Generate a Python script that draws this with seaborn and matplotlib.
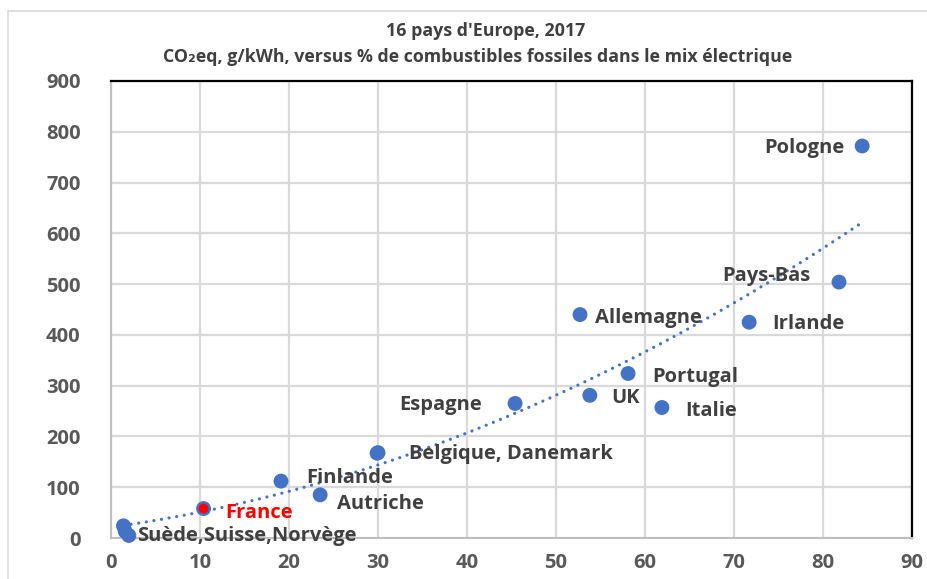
import numpy as np
import pandas as pd
import matplotlib
matplotlib.use("Agg")
import matplotlib.pyplot as plt
from matplotlib.lines import Line2D
import seaborn as sns

# ---- data ----
countries = ["Suède", "Suisse", "Norvège", "France", "Finlande", "Autriche",
             "Belgique", "Danemark", "Espagne", "Allemagne", "UK", "Portugal",
             "Italie", "Irlande", "Pays-Bas", "Pologne"]
fossil_pct = [1.6, 2.0, 1.4, 10.4, 19.1, 23.5, 29.9, 30.0, 45.4, 52.7, 53.8,
              58.1, 61.9, 71.7, 81.8, 84.4]
co2_g_kwh = [13, 5, 24, 58, 112, 85, 167, 168, 265, 440, 281, 324, 257, 425,
             504, 772]
x_ticks = [0, 10, 20, 30, 40, 50, 60, 70, 80, 90]
y_ticks = [0, 100, 200, 300, 400, 500, 600, 700, 800, 900]

# label text, anchor country, offset in pixels, alignment, colour
labels = [
    ("Pologne", "Pologne", (-18, -2), "right", "#404040"),
    ("Pays-Bas", "Pays-Bas", (-29, 6), "right", "#404040"),
    ("Irlande", "Irlande", (23, -2), "left", "#404040"),
    ("Allemagne", "Allemagne", (15, -3), "left", "#404040"),
    ("Portugal", "Portugal", (24, -4), "left", "#404040"),
    ("UK", "UK", (21, -3), "left", "#404040"),
    ("Italie", "Italie", (23, -3), "left", "#404040"),
    ("Espagne", "Espagne", (-33, -2), "right", "#404040"),
    ("Belgique, Danemark", "Belgique", (32, -1), "left", "#404040"),
    ("Finlande", "Finlande", (25, 3), "left", "#404040"),
    ("Autriche", "Autriche", (17, -9), "left", "#404040"),
    ("France", "France", (22, -4), "left", "#FF0000"),
    ("Suède,Suisse,Norvège", "Suisse", (8, -1), "left", "#404040"),
]

df = pd.DataFrame({"pays": countries, "fossile": fossil_pct, "co2": co2_g_kwh})

sns.set_theme(style="white")
plt.rcParams["font.family"] = ["Open Sans", "DejaVu Sans"]
plt.rcParams["font.weight"] = "bold"

blue = "#4472C4"
fig = plt.figure(figsize=(9.28, 5.79), dpi=100)
ax = fig.add_axes([111 / 928, 1 - 538 / 579, (912 - 111) / 928, (538 - 81) / 579])

# trendline (polynomial order 2, as Excel)
coef = np.polyfit(df["fossile"], df["co2"], 2)
xs = np.linspace(min(fossil_pct), max(fossil_pct), 200)
ax.plot(xs, np.polyval(coef, xs), color=blue, lw=2.3,
        linestyle=(0, (0.01, 2.4)), dash_capstyle="round", zorder=2)

sns.scatterplot(data=df, x="fossile", y="co2", ax=ax, color=blue, s=115,
                edgecolor="none", zorder=3, clip_on=False)
fr = df[df["pays"] == "France"]
ax.scatter(fr["fossile"], fr["co2"], s=50, color="#FF0000", zorder=4,
           edgecolor="none")

ax.set_xlim(0, 90)
ax.set_ylim(0, 900)
ax.set_xticks(x_ticks)
ax.set_yticks(y_ticks)
ax.set_xticklabels([str(v) for v in x_ticks])
ax.set_yticklabels([str(v) for v in y_ticks])
ax.tick_params(axis="both", labelsize=14.5, colors="#595959", length=0)
ax.tick_params(axis="y", pad=22)
ax.tick_params(axis="x", pad=11)
for t in ax.get_xticklabels() + ax.get_yticklabels():
    t.set_fontweight("bold")
ax.set_xlabel("")
ax.set_ylabel("")
ax.grid(True, color="#D9D9D9", lw=1.6)
ax.set_axisbelow(True)
for s in ["left", "bottom"]:
    ax.spines[s].set_color("#BFBFBF")
    ax.spines[s].set_linewidth(1.5)
for s in ["top", "right"]:
    ax.spines[s].set_color("#000000")
    ax.spines[s].set_linewidth(1.6)

for text, who, off, ha, col in labels:
    row = df[df["pays"] == who].iloc[0]
    ax.annotate(text, (row["fossile"], row["co2"]), xytext=(off[0], off[1]),
                textcoords="offset pixels", ha=ha, va="center", fontsize=14.5,
                fontweight="bold", color=col, zorder=5, annotation_clip=False)

fig.text(486 / 928, 1 - 31 / 579, "16 pays d'Europe, 2017", ha="center",
         va="center", fontsize=12.8, fontweight="bold", color="#404040")
fig.text(478 / 928, 1 - 57 / 579,
         "CO₂eq, g/kWh, versus % de combustibles fossiles dans le mix électrique",
         ha="center", va="center", fontsize=12.8, fontweight="bold",
         color="#404040")

# outer chart border (partially visible)
fig.add_artist(Line2D([8 / 928, 1], [1 - 11 / 579, 1 - 11 / 579],
                      transform=fig.transFigure, color="#D9D9D9", lw=1.2))
fig.add_artist(Line2D([8 / 928, 8 / 928], [0, 1 - 11 / 579],
                      transform=fig.transFigure, color="#D9D9D9", lw=1.2))

fig.savefig("out.png", dpi=100)
